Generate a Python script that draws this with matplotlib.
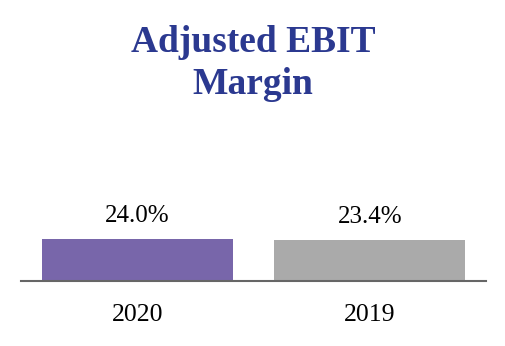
import matplotlib
matplotlib.use("Agg")
import matplotlib.pyplot as plt

categories = ["2020", "2019"]
values = [24.0, 23.4]
labels = ["24.0%", "23.4%"]
colors = ["#7866AA", "#AAAAAA"]
title_lines = ["Adjusted EBIT", "Margin"]

plt.rcParams['font.family'] = ['Liberation Serif', 'DejaVu Serif']

fig = plt.figure(figsize=(5.06, 3.46), dpi=100)
fig.patch.set_facecolor("white")

ax = fig.add_axes([21/506, (346-280.5)/346, 465/506, 70/346])
x = list(range(len(categories)))
ax.bar(x, values, width=0.82, color=colors, zorder=2)
ax.set_xlim(-0.5, 1.5)
ax.set_ylim(0, 40)
for s in ["top", "right", "left"]:
    ax.spines[s].set_visible(False)
ax.spines["bottom"].set_color("#666666")
ax.spines["bottom"].set_linewidth(1.5)
ax.set_yticks([])
ax.set_xticks(x)
ax.set_xticklabels(categories, fontsize=18.5)
ax.tick_params(axis="x", length=0, pad=17)

for xi, v, lab in zip(x, values, labels):
    ax.annotate(lab, (xi, v), xytext=(0, 8), textcoords="offset points",
                ha="center", va="bottom", fontsize=18)

for line, yb in zip(title_lines, [52, 94]):
    fig.text(0.5, 1 - yb/346, line, ha="center", va="baseline",
             fontsize=27, fontweight="bold", color="#2B3990")

fig.savefig("out.png", dpi=100)
